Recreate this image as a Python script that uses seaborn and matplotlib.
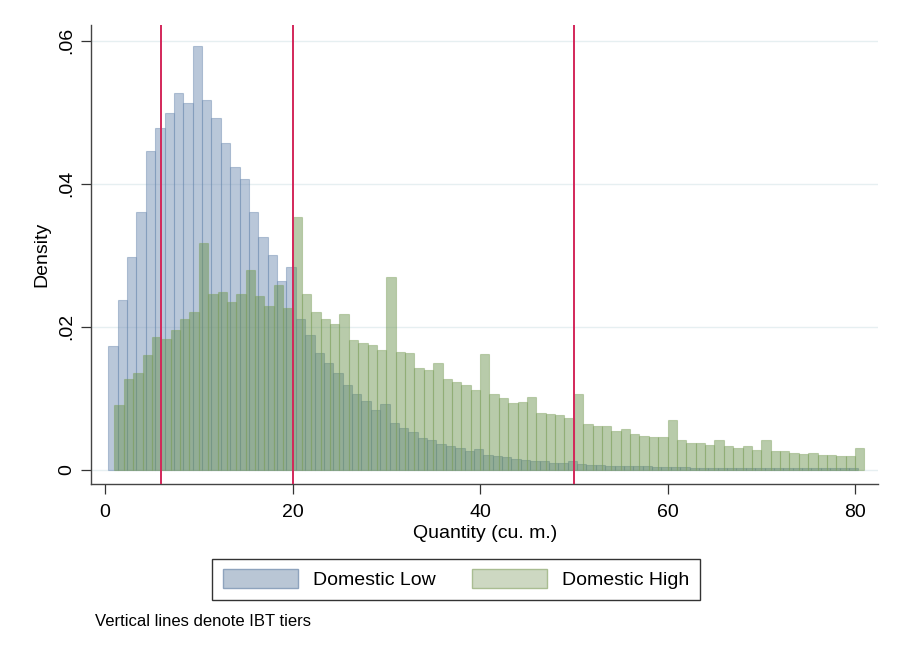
import numpy as np
import pandas as pd
import matplotlib
matplotlib.use("Agg")
import matplotlib.pyplot as plt
from matplotlib.patches import Patch
import seaborn as sns

# ---- data ----
low_start = 0.35
low_density = [
    0.0173, 0.0238, 0.0297, 0.0360, 0.0446, 0.0478, 0.0499, 0.0527, 0.0513, 0.0593,
    0.0517, 0.0492, 0.0457, 0.0423, 0.0407, 0.0360, 0.0326, 0.0300, 0.0264, 0.0284,
    0.0211, 0.0188, 0.0163, 0.0149, 0.0135, 0.0119, 0.0106, 0.0096, 0.0084, 0.0092,
    0.0065, 0.0058, 0.0053, 0.0044, 0.0042, 0.0036, 0.0033, 0.0030, 0.0027, 0.0029,
    0.0021, 0.0019, 0.0018, 0.0015, 0.0014, 0.0013, 0.0012, 0.0009, 0.0009, 0.0013,
    0.0008, 0.0007, 0.0007, 0.0006, 0.0006, 0.0005, 0.0005, 0.0005, 0.0004, 0.0004,
    0.0004, 0.0004, 0.0003, 0.0003, 0.0003, 0.0003, 0.0003, 0.0003, 0.0002, 0.0003,
    0.0002, 0.0002, 0.0002, 0.0002, 0.0002, 0.0002, 0.0002, 0.0002, 0.0002, 0.0002,
]
high_start = 1.0
high_density = [
    0.0091, 0.0127, 0.0136, 0.0161, 0.0186, 0.0183, 0.0196, 0.0211, 0.0220, 0.0317,
    0.0246, 0.0249, 0.0235, 0.0246, 0.0280, 0.0243, 0.0229, 0.0259, 0.0226, 0.0353,
    0.0246, 0.0220, 0.0211, 0.0204, 0.0218, 0.0182, 0.0178, 0.0175, 0.0167, 0.0269,
    0.0165, 0.0163, 0.0142, 0.0140, 0.0150, 0.0127, 0.0123, 0.0119, 0.0112, 0.0162,
    0.0106, 0.0101, 0.0093, 0.0095, 0.0102, 0.0080, 0.0078, 0.0076, 0.0072, 0.0106,
    0.0064, 0.0061, 0.0061, 0.0054, 0.0057, 0.0050, 0.0047, 0.0046, 0.0046, 0.0069,
    0.0042, 0.0038, 0.0038, 0.0035, 0.0042, 0.0034, 0.0031, 0.0034, 0.0028, 0.0041,
    0.0027, 0.0026, 0.0024, 0.0022, 0.0024, 0.0021, 0.0021, 0.0019, 0.0019, 0.0030,
]
bin_width = 1.0
tier_lines = [6, 20, 50]
series_names = ["Domestic Low", "Domestic High"]
x_ticks = [0, 20, 40, 60, 80]
y_ticks = [0, 0.02, 0.04, 0.06]
y_tick_labels = ["0", ".02", ".04", ".06"]
x_label = "Quantity (cu. m.)"
y_label = "Density"
note = "Vertical lines denote IBT tiers"

# ---- build tables ----
low_edges = [float(low_start + bin_width * i) for i in range(len(low_density) + 1)]
high_edges = [float(high_start + bin_width * i) for i in range(len(high_density) + 1)]
df_low = pd.DataFrame({"q": np.array(low_edges[:-1]) + bin_width / 2, "d": low_density})
df_high = pd.DataFrame({"q": np.array(high_edges[:-1]) + bin_width / 2, "d": high_density})

sns.set_style("white")
plt.rcParams["font.family"] = ["Liberation Sans", "DejaVu Sans"]
plt.rcParams["text.color"] = "black"
plt.rcParams["axes.labelcolor"] = "black"
plt.rcParams["xtick.color"] = "black"
plt.rcParams["ytick.color"] = "black"

fig = plt.figure(figsize=(9.01, 6.56), dpi=100)
ax = fig.add_axes([0.101, 0.262, 0.874, 0.700])

low_face = (0.46, 0.57, 0.71, 0.50)
low_edge = (0.42, 0.54, 0.69, 0.45)
high_face = (0.40, 0.56, 0.28, 0.46)
high_edge = (0.48, 0.62, 0.34, 0.40)

sns.histplot(data=df_low, x="q", weights="d", bins=low_edges, stat="count",
             ax=ax, color=low_face[:3], linewidth=0.8)
n_low = len(ax.patches)
for p in ax.patches:
    p.set_alpha(None)
    p.set_facecolor(low_face)
    p.set_edgecolor(low_edge)
    p.set_zorder(2)
sns.histplot(data=df_high, x="q", weights="d", bins=high_edges, stat="count",
             ax=ax, color=high_face[:3], linewidth=0.8)
for p in ax.patches[n_low:]:
    p.set_alpha(None)
    p.set_facecolor(high_face)
    p.set_edgecolor(high_edge)
    p.set_zorder(3)

for t in tier_lines:
    ax.axvline(t, color="#d3275a", lw=1.4, zorder=4)

ax.set_xlim(-1.5, 82.5)
ax.set_ylim(-0.002, 0.0622)
ax.set_xticks(x_ticks)
ax.set_yticks(y_ticks)
ax.set_yticklabels(y_tick_labels, rotation=90, va="center")
ax.tick_params(axis="both", labelsize=14, length=7, width=0.9, color="#333333",
               labelcolor="black", direction="out", left=True, bottom=True)
ax.tick_params(axis="y", pad=4)
ax.tick_params(axis="x", pad=7)
ax.grid(axis="y", color="#e6eff1", lw=1.0, zorder=0)
ax.set_axisbelow(True)
for s in ["top", "right"]:
    ax.spines[s].set_visible(False)
for s in ["left", "bottom"]:
    ax.spines[s].set_color("#444444")
    ax.spines[s].set_linewidth(1.0)

ax.set_xlabel(x_label, fontsize=14, labelpad=3)
ax.set_ylabel(y_label, fontsize=14, labelpad=6)

handles = [
    Patch(facecolor="#b9c6d5", edgecolor="#8ea3bd", lw=1.0, label=series_names[0]),
    Patch(facecolor="#cdd8c2", edgecolor="#a9bd92", lw=1.0, label=series_names[1]),
]
leg = fig.legend(handles=handles, loc="center", bbox_to_anchor=(0.506, 0.117),
                 ncol=2, fontsize=14, frameon=True, fancybox=False,
                 edgecolor="black", handlelength=3.9, handleheight=1.1,
                 columnspacing=1.85, handletextpad=0.75, borderpad=0.55,
                 borderaxespad=0)
leg.get_frame().set_linewidth(1.0)

fig.text(95 / 901, 1 - 622 / 656, note, fontsize=12, va="center", ha="left")

fig.savefig("out.png", dpi=100)
